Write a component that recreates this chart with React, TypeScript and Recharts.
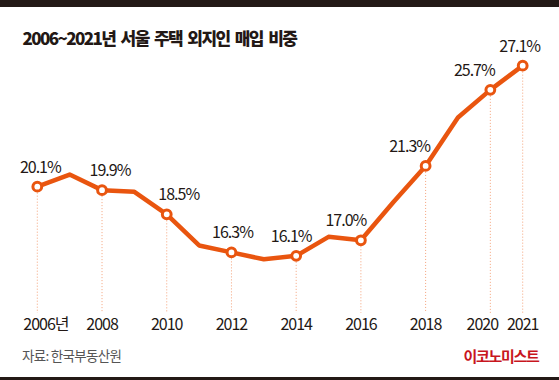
import React from 'react';
import { LineChart, Line, XAxis, YAxis, ReferenceLine, LabelList } from 'recharts';

const years = [2006, 2007, 2008, 2009, 2010, 2011, 2012, 2013, 2014, 2015, 2016, 2017, 2018, 2019, 2020, 2021];
const shares = [20.1, 20.8, 19.9, 19.8, 18.5, 16.7, 16.3, 15.9, 16.1, 17.2, 17.0, 19.2, 21.3, 24.1, 25.7, 27.1];
const markedYears = [2006, 2008, 2010, 2012, 2014, 2016, 2018, 2020, 2021];
const tickYears = [2006, 2008, 2010, 2012, 2014, 2016, 2018, 2020, 2021];
const tickLabels = ['2006년', '2008', '2010', '2012', '2014', '2016', '2018', '2020', '2021'];

const labelDx: Record<number, number> = {
  2006: 3, 2008: 8, 2010: 12, 2012: 1, 2014: -5, 2016: -15, 2018: -16, 2020: -16, 2021: -3,
};

const data = years.map((y, i) => ({ year: y, share: shares[i] }));

const ORANGE = '#E9550F';
const DOT_LINE = '#F4A27A';
const TEXT = '#231815';
const FONT = '"Noto Sans CJK KR", "Noto Sans", sans-serif';
const Y_MIN = 12.8;

const Dot = (props: any) => {
  const { cx, cy, payload } = props;
  if (!markedYears.includes(payload.year)) return <g key={`d${payload.year}`} />;
  return <circle key={`d${payload.year}`} cx={cx} cy={cy} r={4.4} fill="#fff" stroke={ORANGE} strokeWidth={3} />;
};

const Label = (props: any) => {
  const { x, y, value, index } = props;
  const yr = years[index];
  if (!markedYears.includes(yr)) return null;
  return (
    <text x={x + (labelDx[yr] || 0)} y={y - 14} textAnchor="middle" fontFamily={FONT} fontSize={16} fill={TEXT} letterSpacing={-1}>
      {value.toFixed(1)}%
    </text>
  );
};

const Tick = (props: any) => {
  const { x, y, payload } = props;
  const idx = tickYears.indexOf(payload.value);
  const label = tickLabels[idx];
  if (payload.value === 2006) {
    return (
      <text x={x - 14} y={y + 17.5} textAnchor="start" fontFamily={FONT} fontSize={16} fill={TEXT} letterSpacing={-1}>
        {label}
      </text>
    );
  }
  const dx = payload.value === 2020 ? -8 : 0;
  return (
    <text x={x + dx} y={y + 17.5} textAnchor="middle" fontFamily={FONT} fontSize={16} fill={TEXT} letterSpacing={-1}>
      {label}
    </text>
  );
};

export default function App() {
  return (
    <div style={{ position: 'absolute', left: 0, top: 0, width: 559, height: 380, background: '#fff', overflow: 'hidden' }}>
      <LineChart
        width={559}
        height={380}
        data={data}
        margin={{ top: 32.8, right: 36.3, bottom: 37.1, left: 37.3 }}
      >
        <XAxis
          dataKey="year"
          type="number"
          domain={[2006, 2021]}
          ticks={tickYears}
          interval={0}
          axisLine={false}
          tickLine={false}
          tickSize={0}
          tickMargin={0}
          height={30}
          tick={<Tick />}
        />
        <YAxis hide domain={[Y_MIN, 29]} type="number" />
        {markedYears.map((yr) => (
          <ReferenceLine
            key={yr}
            segment={[
              { x: yr, y: shares[years.indexOf(yr)] },
              { x: yr, y: Y_MIN },
            ]}
            stroke={DOT_LINE}
            strokeWidth={1}
            strokeDasharray="1 2"
          />
        ))}
        <Line
          dataKey="share"
          stroke={ORANGE}
          strokeWidth={4.5}
          strokeLinejoin="round"
          dot={<Dot />}
          activeDot={false}
          isAnimationActive={false}
        >
          <LabelList dataKey="share" content={<Label />} />
        </Line>
      </LineChart>
      <svg width={559} height={380} style={{ position: 'absolute', left: 0, top: 0, pointerEvents: 'none' }}>
        <rect x={0} y={0} width={559} height={7} fill="#231916" />
        <rect x={0} y={377} width={559} height={3} fill="#231916" />
        <text x={22.5} y={45} fontFamily={FONT} fontSize={17} fontWeight={900} fill={TEXT} letterSpacing={-1.6} wordSpacing={3}>
          2006~2021년 서울 주택 외지인 매입 비중
        </text>
        <text x={22} y={361} fontFamily={FONT} fontSize={13.5} fill="#555" letterSpacing={-0.7}>
          자료: 한국부동산원
        </text>
        <text x={538.5} y={362} textAnchor="end" fontFamily={FONT} fontSize={15} fontWeight={700} fill="#C8161E" letterSpacing={-1.3}>
          이코노미스트
        </text>
      </svg>
    </div>
  );
}
